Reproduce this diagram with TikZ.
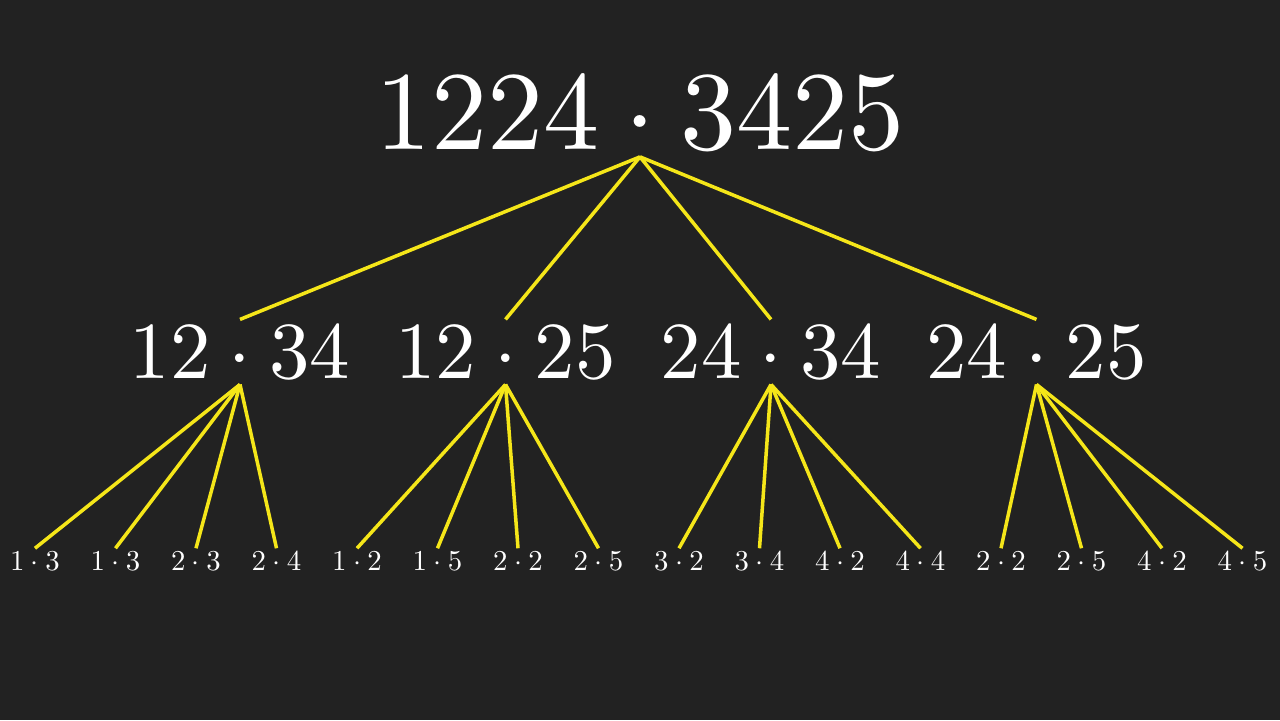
\documentclass[tikz,border=0pt]{standalone}
\usepackage{amsmath}
\usepackage{xcolor}
\usepackage{tikz}
\definecolor{bg}{RGB}{34,34,34}
\definecolor{edge}{RGB}{245,230,25}

\begin{document}
\begin{tikzpicture}[x=0.01cm, y=-0.01cm,
        every node/.style={text=white, anchor=base, font=\normalsize},
        big/.style={scale=3.19, inner sep=0.2pt},
        mid/.style={scale=2.3, inner sep=0.3pt},
        small/.style={scale=0.82, inner sep=0.6pt},
        every path/.style={edge, line width=1pt}]
        \fill[bg] (0,0) rectangle (1280,720);
        \useasboundingbox (0,0) rectangle (1280,720);

        \node[big] (A) at (640, 149) {$1224 \cdot 3425$};

        \node[mid] (B) at (240, 378) {$12 \cdot 34$};
        \node[mid] (C) at (505.5, 378) {$12 \cdot 25$};
        \node[mid] (D) at (771, 378) {$24 \cdot 34$};
        \node[mid] (E) at (1036.5, 378) {$24 \cdot 25$};

        \node[small] (F) at (35, 570) {$1 \cdot 3$};
        \node[small] (G) at (115.5, 570) {$1 \cdot 3$};
        \node[small] (H) at (196, 570) {$2 \cdot 3$};
        \node[small] (I) at (276.5, 570) {$2 \cdot 4$};
        \node[small] (J) at (357, 570) {$1 \cdot 2$};
        \node[small] (K) at (437.5, 570) {$1 \cdot 5$};
        \node[small] (L) at (518, 570) {$2 \cdot 2$};
        \node[small] (M) at (598.5, 570) {$2 \cdot 5$};
        \node[small] (N) at (679, 570) {$3 \cdot 2$};
        \node[small] (O) at (759.5, 570) {$3 \cdot 4$};
        \node[small] (P) at (840, 570) {$4 \cdot 2$};
        \node[small] (Q) at (920.5, 570) {$4 \cdot 4$};
        \node[small] (R) at (1001, 570) {$2 \cdot 2$};
        \node[small] (S) at (1081.5, 570) {$2 \cdot 5$};
        \node[small] (T) at (1162, 570) {$4 \cdot 2$};
        \node[small] (U) at (1242.5, 570) {$4 \cdot 5$};

        \draw (A.south) -- (B.north);
        \draw (A.south) -- (C.north);
        \draw (A.south) -- (D.north);
        \draw (A.south) -- (E.north);

        \draw (B.south) -- (F.north);
        \draw (B.south) -- (G.north);
        \draw (B.south) -- (H.north);
        \draw (B.south) -- (I.north);
        \draw (C.south) -- (J.north);
        \draw (C.south) -- (K.north);
        \draw (C.south) -- (L.north);
        \draw (C.south) -- (M.north);
        \draw (D.south) -- (N.north);
        \draw (D.south) -- (O.north);
        \draw (D.south) -- (P.north);
        \draw (D.south) -- (Q.north);
        \draw (E.south) -- (R.north);
        \draw (E.south) -- (S.north);
        \draw (E.south) -- (T.north);
        \draw (E.south) -- (U.north);
    \end{tikzpicture}
\end{document}
